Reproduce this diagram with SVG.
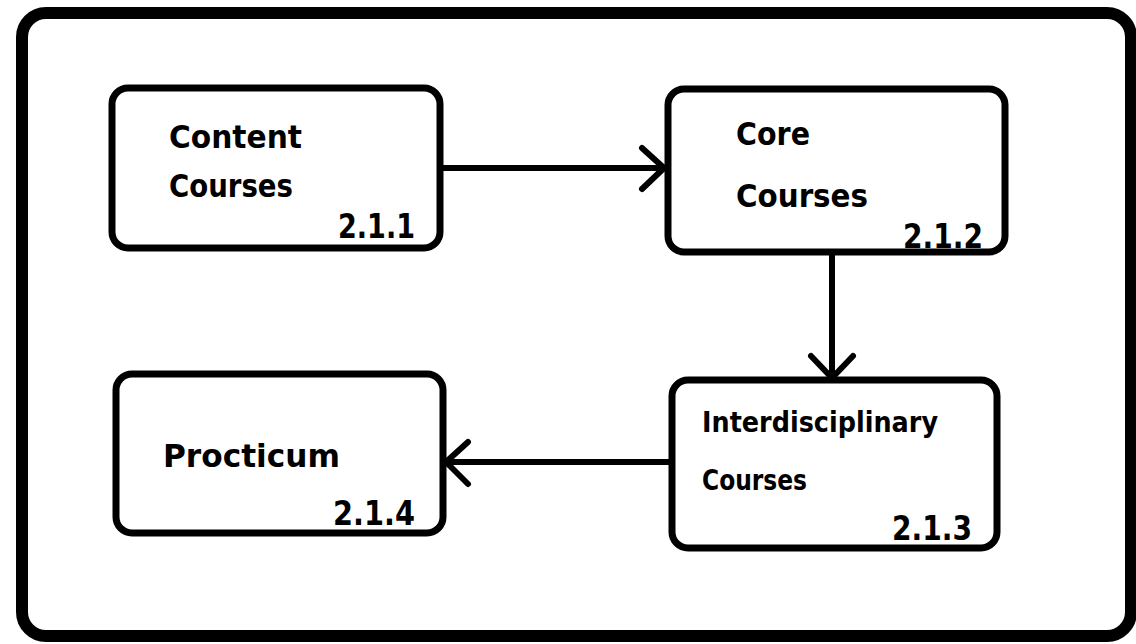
<svg xmlns="http://www.w3.org/2000/svg" width="1136" height="644" viewBox="0 0 1136 644">
  <style>
    .frame { fill: none; stroke: #000; stroke-width: 12; }
    .box { fill: #fff; stroke: #000; stroke-width: 7; }
    .label { font-family: "DejaVu Sans", "Liberation Sans", sans-serif; font-weight: bold; font-size: 32px; fill: #000; }
    .small { font-size: 29px; }
    .num { font-family: "DejaVu Sans", "Liberation Sans", sans-serif; font-weight: bold; font-size: 34px; fill: #000; }
    .wire { fill: none; stroke: #000; stroke-width: 6; stroke-linecap: round; stroke-linejoin: round; }
  </style>
  <rect width="1136" height="644" fill="#fff"/>

  <!-- outer frame -->
  <rect class="frame" x="22" y="13" width="1109" height="623" rx="24"/>

  <!-- connectors -->
  <g id="connectors">
    <path class="wire" d="M443 168 H664 M642 148 L664 168 L642 189"/>
    <path class="wire" d="M832 255 V378 M811 356 L832 378 L853 356"/>
    <path class="wire" d="M670 462 H446 M468 442 L446 462 L468 484"/>
  </g>

  <g id="content-courses">
    <rect class="box" x="112" y="88" width="328" height="160" rx="16"/>
    <text class="label" x="169" y="148" textLength="133" lengthAdjust="spacingAndGlyphs">Content</text>
    <text class="label" x="169" y="197" textLength="124" lengthAdjust="spacingAndGlyphs">Courses</text>
    <text class="num" x="338" y="238" textLength="77" lengthAdjust="spacingAndGlyphs">2.1.1</text>
  </g>

  <g id="core-courses">
    <rect class="box" x="668" y="89" width="337" height="163" rx="16"/>
    <text class="label" x="736" y="145" textLength="74" lengthAdjust="spacingAndGlyphs">Core</text>
    <text class="label" x="736" y="207" textLength="132" lengthAdjust="spacingAndGlyphs">Courses</text>
    <text class="num" x="903" y="248" textLength="80" lengthAdjust="spacingAndGlyphs">2.1.2</text>
  </g>

  <g id="interdisciplinary-courses">
    <rect class="box" x="672" y="380" width="325" height="168" rx="16"/>
    <text class="label small" x="702" y="432" textLength="236" lengthAdjust="spacingAndGlyphs">Interdisciplinary</text>
    <text class="label small" x="702" y="490" textLength="105" lengthAdjust="spacingAndGlyphs">Courses</text>
    <text class="num" x="892" y="540" textLength="80" lengthAdjust="spacingAndGlyphs">2.1.3</text>
  </g>

  <g id="practicum">
    <rect class="box" x="116" y="374" width="327" height="159" rx="16"/>
    <text class="label" x="163" y="467" textLength="177" lengthAdjust="spacingAndGlyphs">Procticum</text>
    <text class="num" x="333" y="525" textLength="82" lengthAdjust="spacingAndGlyphs">2.1.4</text>
  </g>
</svg>
